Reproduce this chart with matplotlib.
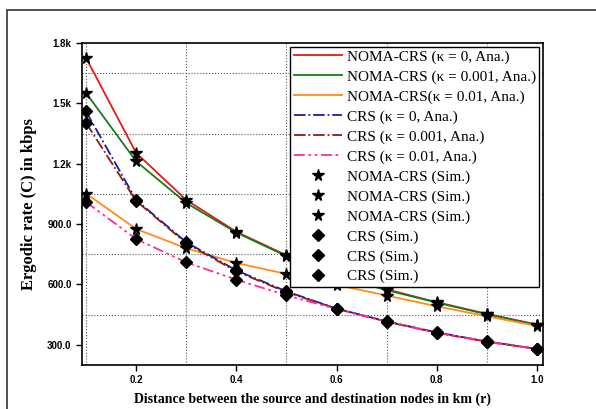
import matplotlib
matplotlib.use('Agg')
import matplotlib.pyplot as plt
from matplotlib.ticker import FixedLocator, FuncFormatter
from matplotlib.patches import Rectangle

# distances (km)
r = [0.1, 0.2, 0.3, 0.4, 0.5, 0.6, 0.7, 0.8, 0.9, 1.0]

# NOMA-CRS, analytic
noma_k0 = [1726, 1254, 1020, 862, 745, 645, 576, 512, 454, 401]
noma_k001 = [1552, 1212, 1005, 858, 741, 640, 572, 510, 452, 399]
noma_k01 = [1052, 876, 780, 707, 652, 598, 545, 492, 442, 394]

# CRS, analytic
crs_k0 = [1460, 1020, 810, 670, 566, 480, 417, 362, 317, 280]
crs_k001 = [1403, 1015, 805, 665, 562, 480, 415, 360, 316, 280]
crs_k01 = [1010, 826, 710, 624, 546, 478, 415, 360, 315, 279]

fig = plt.figure(figsize=(5.96, 4.09), dpi=100)
ax = fig.add_axes([0.1376, 0.1076, 0.7735, 0.7873])

# outer frame (partly cut off like the screenshot)
fig.patches.append(Rectangle((7/596, -0.1), 1.2, 1.1 - 10/409, transform=fig.transFigure,
                             fill=False, edgecolor='#333333', linewidth=1.2))

ax.plot(r, noma_k0, color='#e31a1c', lw=1.3, label='NOMA-CRS (κ = 0, Ana.)')
ax.plot(r, noma_k001, color='#1a7a1a', lw=1.3, label='NOMA-CRS (κ = 0.001, Ana.)')
ax.plot(r, noma_k01, color='#ff8c1a', lw=1.3, label='NOMA-CRS(κ = 0.01, Ana.)')
ax.plot(r, crs_k0, color='#1c1ca0', lw=1.3, ls='-.', label='CRS (κ = 0, Ana.)')
ax.plot(r, crs_k001, color='#8b1a1a', lw=1.3, ls='-.', label='CRS (κ = 0.001, Ana.)')
ax.plot(r, crs_k01, color='#ff2d9b', lw=1.3, ls=(0, (6, 2, 1.5, 2, 1.5, 2)), label='CRS (κ = 0.01, Ana.)')

for s in [noma_k0, noma_k001, noma_k01]:
    ax.plot(r, s, ls='none', marker='*', ms=8.5, color='black', label='NOMA-CRS (Sim.)')
for s in [crs_k0, crs_k001, crs_k01]:
    ax.plot(r, s, ls='none', marker='D', ms=6, color='black', label='CRS (Sim.)')

ax.set_xlim(0.092, 1.012)
ax.set_ylim(200, 1800)

ax.xaxis.set_major_locator(FixedLocator([0.2, 0.4, 0.6, 0.8, 1.0]))
ax.xaxis.set_minor_locator(FixedLocator([0.1, 0.3, 0.5, 0.7, 0.9]))
ax.yaxis.set_major_locator(FixedLocator([300, 600, 900, 1200, 1500, 1800]))
ax.yaxis.set_minor_locator(FixedLocator([450, 750, 1050, 1350, 1650]))

def yfmt(v, pos):
    if v >= 1000:
        return '%.1fk' % (v / 1000)
    return '%.1f' % v

ax.yaxis.set_major_formatter(FuncFormatter(yfmt))
ax.xaxis.set_major_formatter(FuncFormatter(lambda v, p: '%.1f' % v))

ax.grid(which='minor', ls=':', color='#555555', lw=0.8)
ax.tick_params(which='major', direction='out', length=4, width=1, labelsize=7)
ax.tick_params(which='minor', length=0)
for lbl in ax.get_xticklabels() + ax.get_yticklabels():
    lbl.set_fontweight('bold')
    lbl.set_family('Liberation Sans')
for sp in ax.spines.values():
    sp.set_linewidth(1.2)

ax.set_xlabel('Distance between the source and destination nodes in km (r)',
              family='Liberation Serif', fontweight='bold', fontsize=10, labelpad=5)
ax.set_ylabel('Ergodic rate (C) in kbps',
              family='Liberation Serif', fontweight='bold', fontsize=12, labelpad=7)

ax.legend(loc='upper right', prop={'family': 'Liberation Serif', 'size': 11},
          fancybox=False, edgecolor='black', framealpha=1, borderaxespad=0.25,
          labelspacing=0.4, handlelength=3.2, borderpad=0.2, handletextpad=0.3)

plt.savefig('out.png', dpi=100)
